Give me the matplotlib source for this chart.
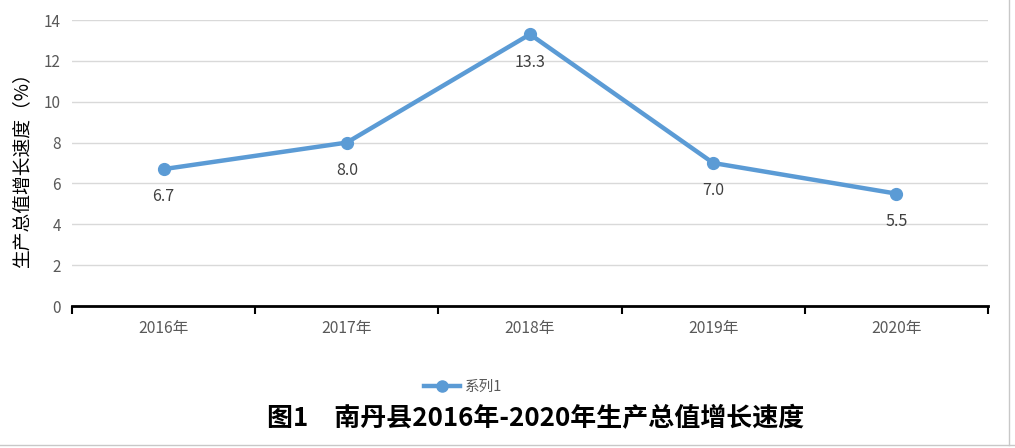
import matplotlib.pyplot as plt
from matplotlib.lines import Line2D

plt.rcParams['font.family'] = ['Noto Sans CJK SC', 'DejaVu Sans']

years = ["2016年", "2017年", "2018年", "2019年", "2020年"]
growth = [6.7, 8.0, 13.3, 7.0, 5.5]
series_name = "系列1"
y_label = "生产总值增长速度（%）"
title = "图1　南丹县2016年-2020年生产总值增长速度"

line_color = "#5b9bd5"

fig = plt.figure(figsize=(10.15, 4.48), dpi=100)
ax = fig.add_axes([72 / 1015, 1 - 306 / 448, (988 - 72) / 1015, (306 - 20) / 448])

xs = list(range(len(years)))
ax.plot(xs, growth, "-o", color=line_color, linewidth=3.2, markersize=8.5,
        label=series_name, zorder=3)
for x, v in zip(xs, growth):
    ax.annotate(f"{v:.1f}", (x, v), xytext=(0, -20), textcoords="offset points",
                ha="center", va="center", fontsize=11.5, color="#404040")

ax.set_xlim(-0.5, len(years) - 0.5)
ax.set_ylim(0, 14)
ax.set_yticks(range(0, 15, 2))
ax.grid(axis="y", color="#d9d9d9", linewidth=1)
ax.set_axisbelow(True)
for s in ("top", "right", "left"):
    ax.spines[s].set_visible(False)
ax.spines["bottom"].set_linewidth(2)
ax.spines["bottom"].set_color("black")

# category labels centred, tick marks between categories
ax.set_xticks(xs)
ax.set_xticklabels(years, fontsize=11.3, color="#595959")
ax.tick_params(axis="x", length=0, pad=10)
ax.set_xticks([x - 0.5 for x in xs] + [len(xs) - 0.5], minor=True)
ax.tick_params(axis="x", which="minor", length=6, width=1.5, color="black")
ax.tick_params(axis="y", length=0, labelsize=11, labelcolor="#595959", pad=8)

fig.text(22 / 1015, 1 - 166 / 448, y_label, rotation=90, ha="center", va="center",
         fontsize=13.5, color="black")

handle = Line2D([], [], color=line_color, linewidth=3.2, marker="o", markersize=8)
fig.legend([handle], [series_name], loc="center", bbox_to_anchor=(463 / 1015, 1 - 387 / 448),
           frameon=False, fontsize=10.5, labelcolor="#595959", handlelength=2.5,
           handletextpad=0.3)

fig.text(536 / 1015, 1 - 419 / 448, title, ha="center", va="center", fontsize=18.7,
         fontweight="bold", color="black")

# spreadsheet cell borders visible around the chart
fig.add_artist(Line2D([1009 / 1015, 1009 / 1015], [1 - 445 / 448, 1], color="#c8c8c8", lw=1))
fig.add_artist(Line2D([0, 1], [1 - 445 / 448] * 2, color="#c8c8c8", lw=1))

fig.savefig("out.png", dpi=100)
